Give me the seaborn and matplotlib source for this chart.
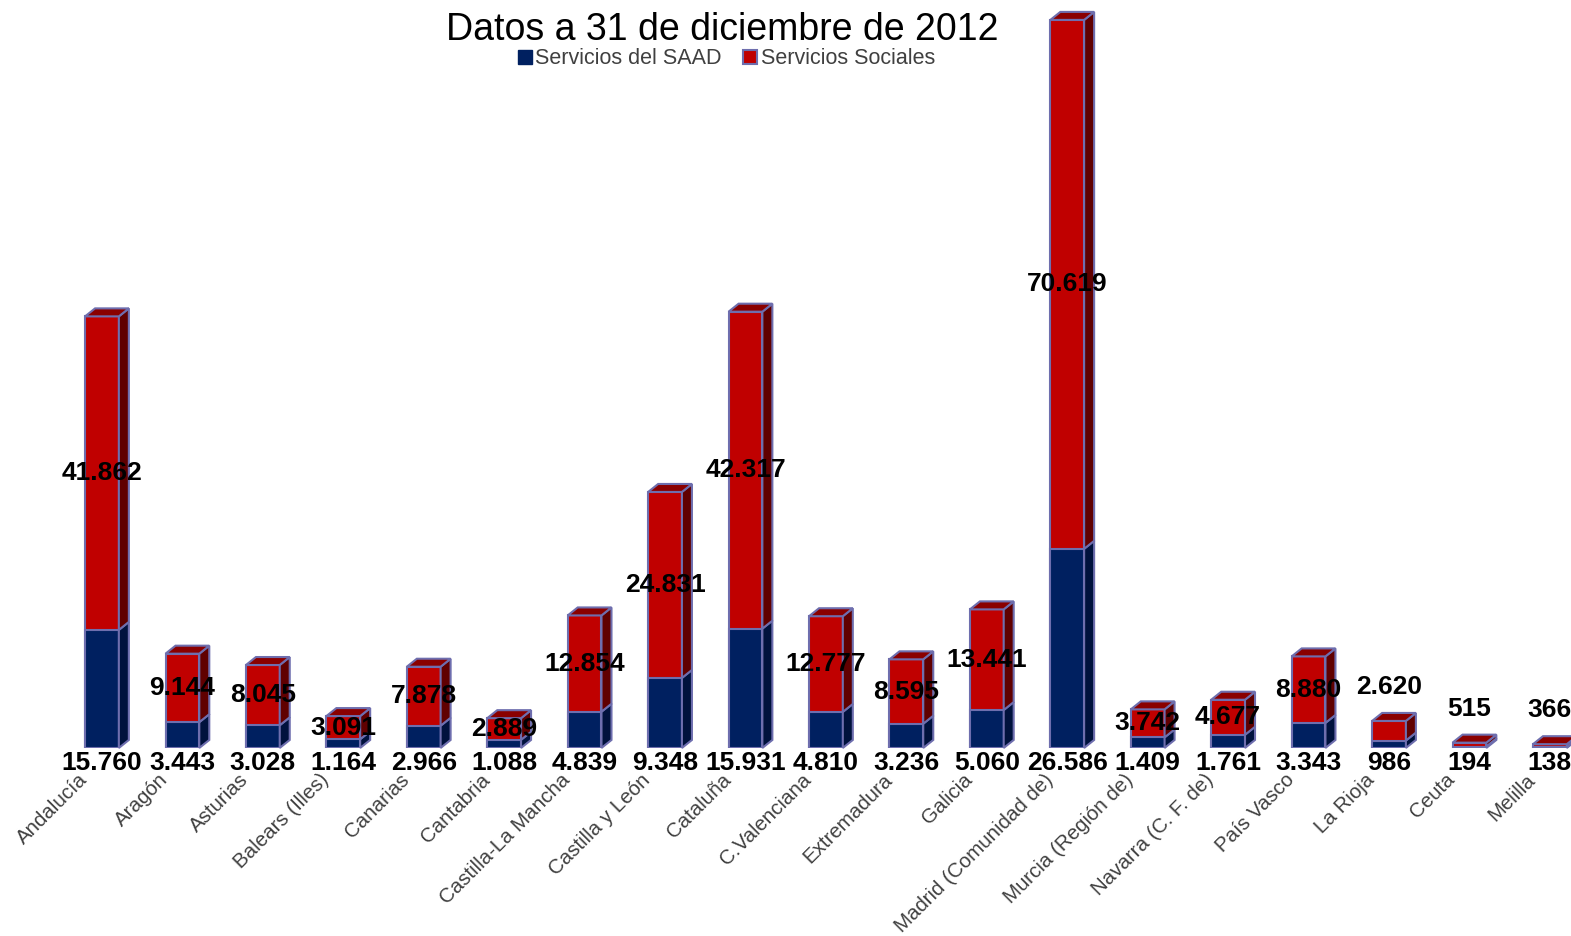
import numpy as np
import pandas as pd
import matplotlib
matplotlib.use("Agg")
import matplotlib.pyplot as plt
import matplotlib.transforms as mtransforms
from matplotlib.patches import Polygon, Patch
import seaborn as sns

# Data
regiones = ["Andalucía", "Aragón", "Asturias", "Balears (Illes)", "Canarias",
            "Cantabria", "Castilla-La Mancha", "Castilla y León", "Cataluña",
            "C.Valenciana", "Extremadura", "Galicia", "Madrid (Comunidad de)",
            "Murcia (Región de)", "Navarra (C. F. de)", "País Vasco", "La Rioja",
            "Ceuta", "Melilla"]
saad = [15760, 3443, 3028, 1164, 2966, 1088, 4839, 9348, 15931, 4810,
        3236, 5060, 26586, 1409, 1761, 3343, 986, 194, 138]
sociales = [41862, 9144, 8045, 3091, 7878, 2889, 12854, 24831, 42317, 12777,
            8595, 13441, 70619, 3742, 4677, 8880, 2620, 515, 366]

df = pd.DataFrame({"region": regiones, "saad": saad, "sociales": sociales})
df["total"] = df["saad"] + df["sociales"]

navy = "#002060"
navy_side = "#00123d"
red = "#c00000"
red_side = "#600000"
red_top = "#8a0000"
edge = "#6e6eae"

sns.set_style("white")
plt.rcParams["font.family"] = ["Liberation Sans", "DejaVu Sans"]

fig = plt.figure(figsize=(15.71, 9.36), dpi=100)
ax = fig.add_axes([0.0393, 0.2009, 0.9575, 0.8002])

W = 0.42
sns.barplot(data=df, x="region", y="total", color=red, saturation=1,
            width=W, edgecolor=edge, linewidth=1.5, ax=ax)
sns.barplot(data=df, x="region", y="saad", color=navy, saturation=1,
            width=W, edgecolor=edge, linewidth=1.5, ax=ax)

ax.set_xlim(-0.5, 18.2)
ax.set_ylim(0, 100000)

# depth of the pseudo 3d effect, in data units (10 px right, 8 px up)
ax_w_px = 0.9575 * 1571
ax_h_px = 0.8002 * 936
dx = 10 / ax_w_px * (18.2 + 0.5)
dy = 8 / ax_h_px * 100000

for i, row in df.iterrows():
    xr = i + W / 2
    xl = i - W / 2
    for y0, y1, col in [(0, row["saad"], navy_side),
                        (row["saad"], row["total"], red_side)]:
        ax.add_patch(Polygon([(xr, y0), (xr + dx, y0 + dy), (xr + dx, y1 + dy), (xr, y1)],
                             closed=True, facecolor=col, edgecolor=edge,
                             linewidth=1.5, clip_on=False, zorder=1))
    t = row["total"]
    ax.add_patch(Polygon([(xl, t), (xl + dx, t + dy), (xr + dx, t + dy), (xr, t)],
                         closed=True, facecolor=red_top, edgecolor=edge,
                         linewidth=1.5, clip_on=False, zorder=1))

    # value labels
    ax.text(i, -2000, f"{row['saad']:,}".replace(",", "."), ha="center", va="center",
            fontsize=19, fontweight="bold", color="black", zorder=5)
    ymid = row["saad"] + row["sociales"] / 2
    if row["total"] < 3700:
        ymid = row["total"] + 4500
    ax.text(i, ymid, f"{row['sociales']:,}".replace(",", "."), ha="center", va="center",
            fontsize=19, fontweight="bold", color="black", zorder=5)

sns.despine(ax=ax, left=True, bottom=True)
ax.set_xlabel("")
ax.set_ylabel("")
ax.set_yticks([])
ax.tick_params(axis="x", length=0, pad=16)
ax.set_xticks(range(len(regiones)))
ax.set_xticklabels(regiones, rotation=45, ha="right", va="top",
                   rotation_mode="anchor", fontsize=14.8, color="#404040")
offset = mtransforms.ScaledTranslation(-24 / 100, 0, fig.dpi_scale_trans)
for lab in ax.get_xticklabels():
    lab.set_transform(lab.get_transform() + offset)

fig.text(0.46, 1 - 30 / 936, "Datos a 31 de diciembre de 2012", ha="center",
         va="center", fontsize=27, color="black")
handles = [Patch(facecolor=navy, edgecolor=navy, label="Servicios del SAAD"),
           Patch(facecolor=red, edgecolor=edge, linewidth=1.5, label="Servicios Sociales")]
fig.legend(handles=handles, loc="center", bbox_to_anchor=(0.4625, 1 - 59 / 936),
           ncol=2, frameon=False, fontsize=15.5, handlelength=0.65, handleheight=0.65,
           handletextpad=0.15, columnspacing=1.0, labelcolor="#404040",
           borderpad=0, borderaxespad=0)

fig.savefig("out.png", dpi=100)
